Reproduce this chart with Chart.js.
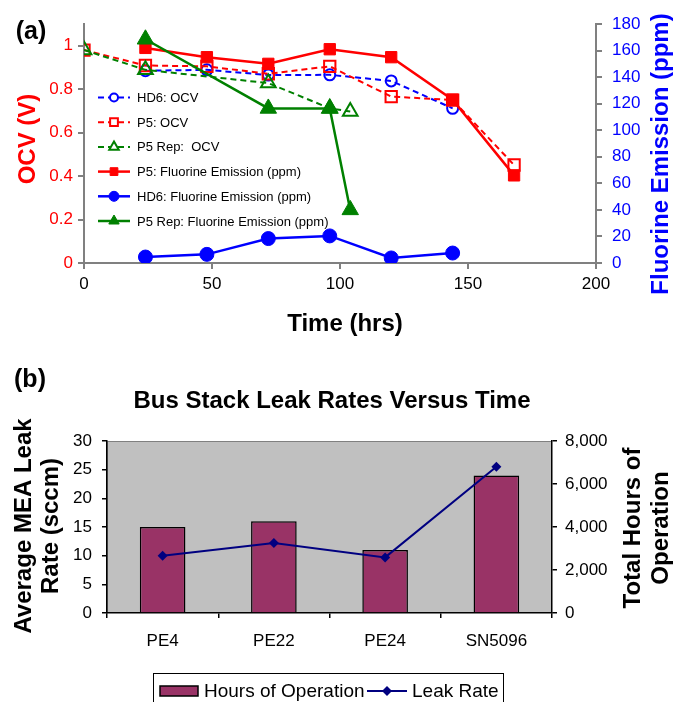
<!DOCTYPE html>
<html>
<head>
<meta charset="utf-8">
<script src="https://cdn.jsdelivr.net/npm/chart.js@4.4.1/dist/chart.umd.min.js"></script>
<style>
  body { margin: 0; background: #fff; }
  #wrapA { position: absolute; left: 0; top: 0; width: 674px; height: 345px; }
  #wrapB { position: absolute; left: 0; top: 345px; width: 674px; height: 357px; }
</style>
</head>
<body>
<div id="wrapA"><canvas id="chartA" width="674" height="345"></canvas></div>
<div id="wrapB"><canvas id="chartB" width="674" height="357"></canvas></div>
<script>
// (a) OCV and fluorine emission versus time
const hd6OcvTime = [24, 48, 72, 96, 120, 144];
const hd6Ocv = [0.885, 0.889, 0.865, 0.866, 0.838, 0.712];
const p5OcvTime = [0, 24, 48, 72, 96, 120, 144, 168];
const p5Ocv = [0.98, 0.909, 0.905, 0.871, 0.905, 0.766, 0.75, 0.451];
const p5RepOcvTime = [0, 24, 72, 96, 104];
const p5RepOcv = [0.98, 0.889, 0.828, 0.712, 0.697];
const p5FluorTime = [24, 48, 72, 96, 120, 144, 168];
const p5Fluor = [162, 155, 150, 161, 155, 123, 66];
const hd6FluorTime = [24, 48, 72, 96, 120, 144];
const hd6Fluor = [4.5, 6.5, 18.4, 20.4, 3.8, 7.5];
const p5RepFluorTime = [24, 72, 96, 104];
const p5RepFluor = [168.5, 116.4, 116.4, 40];

const timeTicks = [0, 50, 100, 150, 200];
const ocvTicks = [0, 0.2, 0.4, 0.6, 0.8, 1];
const fluorTicks = [0, 20, 40, 60, 80, 100, 120, 140, 160, 180];

// (b) bus stack leak rates
const stacks = ["PE4", "PE22", "PE24", "SN5096"];
const hoursOfOperation = [4000, 4270, 2930, 6400];
const leakRate = [10, 12.2, 9.7, 25.5];
const leakTicks = [0, 5, 10, 15, 20, 25, 30];
const hoursTicks = [0, 2000, 4000, 6000, 8000];

const FONT = "'Liberation Sans', Arial, sans-serif";
const GRAY = "#808080";
const RED = "#ff0000";
const BLUE = "#0000ff";
const GREEN = "#008000";

Chart.defaults.font.family = FONT;
Chart.defaults.animation = false;

function pts(xs, ys) {
  return xs.map((x, i) => ({ x: x, y: ys[i] }));
}

function setTicks(list) {
  return (scale) => { scale.ticks = list.map(v => ({ value: v })); };
}

function text(ctx, str, x, y, font, color, rot) {
  ctx.save();
  ctx.translate(x, y);
  if (rot) ctx.rotate(rot);
  ctx.font = font;
  ctx.fillStyle = color;
  ctx.textAlign = "center";
  ctx.textBaseline = "middle";
  ctx.fillText(str, 0, 0);
  ctx.restore();
}

// ---------- chart (a) ----------
const datasetsA = [
  { label: "HD6: OCV", data: pts(hd6OcvTime, hd6Ocv), yAxisID: "y",
    borderColor: BLUE, borderDash: [6, 4], borderWidth: 2,
    pointStyle: "circle", pointRadius: 5.5, pointBorderWidth: 2,
    pointBackgroundColor: "transparent", pointBorderColor: BLUE, legendR: 4 },
  { label: "P5: OCV", data: pts(p5OcvTime, p5Ocv), yAxisID: "y",
    borderColor: RED, borderDash: [6, 4], borderWidth: 2,
    pointStyle: "rect", pointRadius: 8, pointBorderWidth: 2,
    pointBackgroundColor: "transparent", pointBorderColor: RED, legendR: 5.5 },
  { label: "P5 Rep:  OCV", data: pts(p5RepOcvTime, p5RepOcv), yAxisID: "y",
    borderColor: GREEN, borderDash: [6, 4], borderWidth: 2,
    pointStyle: "triangle", pointRadius: 8.5, pointBorderWidth: 2,
    pointBackgroundColor: "transparent", pointBorderColor: GREEN, legendR: 5.5 },
  { label: "P5: Fluorine Emission (ppm)", data: pts(p5FluorTime, p5Fluor), yAxisID: "y1",
    borderColor: RED, borderWidth: 2.5,
    pointStyle: "rect", pointRadius: 8, pointBorderWidth: 1,
    pointBackgroundColor: RED, pointBorderColor: RED, legendR: 5.5 },
  { label: "HD6: Fluorine Emission (ppm)", data: pts(hd6FluorTime, hd6Fluor), yAxisID: "y1",
    borderColor: BLUE, borderWidth: 2.5,
    pointStyle: "circle", pointRadius: 7, pointBorderWidth: 1,
    pointBackgroundColor: BLUE, pointBorderColor: BLUE, legendR: 5 },
  { label: "P5 Rep: Fluorine Emission (ppm)", data: pts(p5RepFluorTime, p5RepFluor), yAxisID: "y1",
    borderColor: GREEN, borderWidth: 2.5,
    pointStyle: "triangle", pointRadius: 9.5, pointBorderWidth: 1,
    pointBackgroundColor: GREEN, pointBorderColor: GREEN, legendR: 6 }
];
datasetsA.forEach((d, i) => { d.order = datasetsA.length - i; d.tension = 0; });

const labelsA = {
  id: "labelsA",
  afterDraw(chart) {
    const ctx = chart.ctx;
    text(ctx, "(a)", 31, 32, "bold 25px " + FONT, "#000");
    text(ctx, "OCV (V)", 28, 139, "bold 24px " + FONT, RED, -Math.PI / 2);
    text(ctx, "Fluorine Emission (ppm)", 661, 154, "bold 24px " + FONT, BLUE, -Math.PI / 2);
    text(ctx, "Time (hrs)", 345, 324, "bold 24px " + FONT, "#000");

    // legend inside the plot
    chart.data.datasets.forEach((d, i) => {
      const y = 97.5 + 24.7 * i;
      ctx.save();
      ctx.strokeStyle = d.borderColor;
      ctx.lineWidth = d.borderWidth;
      ctx.setLineDash(d.borderDash || []);
      ctx.beginPath();
      ctx.moveTo(98, y);
      ctx.lineTo(130, y);
      ctx.stroke();
      ctx.setLineDash([]);
      ctx.fillStyle = d.pointBackgroundColor === "transparent" ? "#fff" : d.pointBackgroundColor;
      ctx.strokeStyle = d.pointBorderColor;
      ctx.lineWidth = d.pointBorderWidth;
      Chart.helpers.drawPoint(ctx, { pointStyle: d.pointStyle, radius: d.legendR,
        rotation: 0, borderWidth: d.pointBorderWidth }, 114, y);
      ctx.font = "13px " + FONT;
      ctx.fillStyle = "#000";
      ctx.textAlign = "left";
      ctx.textBaseline = "middle";
      ctx.fillText(d.label, 137, y + 1);
      ctx.restore();
    });
  }
};

new Chart(document.getElementById("chartA"), {
  type: "line",
  data: { datasets: datasetsA },
  options: {
    responsive: false,
    devicePixelRatio: 1,
    layout: { padding: { top: 24, left: 0, right: 0, bottom: 0 } },
    plugins: { legend: { display: false }, tooltip: { enabled: false } },
    scales: {
      x: {
        type: "linear", min: 0, max: 200, position: "bottom",
        afterBuildTicks: setTicks(timeTicks),
        afterFit: (s) => { s.height = 82; },
        border: { color: GRAY, width: 2 },
        grid: { drawOnChartArea: false, drawTicks: true, tickLength: 6, color: GRAY, lineWidth: 2 },
        ticks: { color: "#000", font: { size: 17 }, padding: 5, maxRotation: 0 }
      },
      y: {
        position: "left", min: 0, max: 1.1,
        afterBuildTicks: setTicks(ocvTicks),
        afterFit: (s) => { s.width = 84; },
        border: { color: GRAY, width: 2 },
        grid: { drawOnChartArea: false, drawTicks: true, tickLength: 6, color: GRAY, lineWidth: 2 },
        ticks: { color: RED, font: { size: 17 }, padding: 5,
          callback: (v) => String(Math.round(v * 10) / 10) }
      },
      y1: {
        position: "right", min: 0, max: 180,
        afterBuildTicks: setTicks(fluorTicks),
        afterFit: (s) => { s.width = 78; },
        border: { color: GRAY, width: 2 },
        grid: { drawOnChartArea: false, drawTicks: true, tickLength: 6, color: GRAY, lineWidth: 2 },
        ticks: { color: BLUE, font: { size: 17 }, padding: 10 }
      }
    }
  },
  plugins: [labelsA]
});

// ---------- chart (b) ----------
const plotBg = {
  id: "plotBg",
  beforeDraw(chart) {
    const a = chart.chartArea;
    const ctx = chart.ctx;
    ctx.save();
    ctx.fillStyle = "#c0c0c0";
    ctx.fillRect(a.left, a.top, a.right - a.left, a.bottom - a.top);
    ctx.strokeStyle = GRAY;
    ctx.lineWidth = 1;
    ctx.strokeRect(a.left + 0.5, a.top + 0.5, a.right - a.left - 1, a.bottom - a.top - 1);
    ctx.restore();
  }
};

const labelsB = {
  id: "labelsB",
  afterDraw(chart) {
    const ctx = chart.ctx;
    text(ctx, "(b)", 30, 35, "bold 25px " + FONT, "#000");
    text(ctx, "Bus Stack Leak Rates Versus Time", 332, 56, "bold 24px " + FONT, "#000");
    text(ctx, "Average MEA Leak", 24, 181, "bold 24px " + FONT, "#000", -Math.PI / 2);
    text(ctx, "Rate (sccm)", 51, 181, "bold 24px " + FONT, "#000", -Math.PI / 2);
    text(ctx, "Total Hours of", 633, 183, "bold 24px " + FONT, "#000", -Math.PI / 2);
    text(ctx, "Operation", 661, 183, "bold 24px " + FONT, "#000", -Math.PI / 2);

    // legend box
    const bar = chart.data.datasets[0];
    const line = chart.data.datasets[1];
    const ly = 346;
    ctx.save();
    ctx.strokeStyle = "#000";
    ctx.lineWidth = 1;
    ctx.strokeRect(153.5, 328.5, 350, 40);
    ctx.fillStyle = bar.backgroundColor;
    ctx.fillRect(160, ly - 5, 38, 10);
    ctx.lineWidth = 1.5;
    ctx.strokeRect(160, ly - 5, 38, 10);
    ctx.strokeStyle = line.borderColor;
    ctx.lineWidth = line.borderWidth;
    ctx.beginPath();
    ctx.moveTo(367, ly);
    ctx.lineTo(407, ly);
    ctx.stroke();
    ctx.fillStyle = line.pointBackgroundColor;
    Chart.helpers.drawPoint(ctx, { pointStyle: "rectRot", radius: 5, rotation: 0, borderWidth: 0 }, 387, ly);
    ctx.font = "19px " + FONT;
    ctx.fillStyle = "#000";
    ctx.textAlign = "left";
    ctx.textBaseline = "middle";
    ctx.fillText(bar.label, 204, ly + 1);
    ctx.fillText(line.label, 412, ly + 1);
    ctx.restore();
  }
};

new Chart(document.getElementById("chartB"), {
  type: "bar",
  data: {
    labels: stacks,
    datasets: [
      { type: "bar", label: "Hours of Operation", data: hoursOfOperation, yAxisID: "y1",
        backgroundColor: "#993366", borderColor: "#000", borderWidth: 1.5,
        barPercentage: 0.41, categoryPercentage: 1, order: 2 },
      { type: "line", label: "Leak Rate", data: leakRate, yAxisID: "y",
        borderColor: "#000080", borderWidth: 2, tension: 0,
        pointStyle: "rectRot", pointRadius: 5, pointBorderWidth: 0,
        pointBackgroundColor: "#000080", order: 1 }
    ]
  },
  options: {
    responsive: false,
    devicePixelRatio: 1,
    locale: "en-US",
    layout: { padding: { top: 96, left: 0, right: 0, bottom: 0 } },
    plugins: { legend: { display: false }, tooltip: { enabled: false } },
    scales: {
      x: {
        type: "category", offset: true,
        afterFit: (s) => { s.height = 89; },
        border: { color: "#000", width: 1.5 },
        grid: { offset: true, drawOnChartArea: false, drawTicks: true, tickLength: 5, color: "#000", lineWidth: 1.5 },
        ticks: { color: "#000", font: { size: 17 }, padding: 13, maxRotation: 0 }
      },
      y: {
        position: "left", min: 0, max: 30,
        afterBuildTicks: setTicks(leakTicks),
        afterFit: (s) => { s.width = 107; },
        border: { color: "#000", width: 1.5 },
        grid: { drawOnChartArea: false, drawTicks: true, tickLength: 5, color: "#000", lineWidth: 1.5 },
        ticks: { color: "#000", font: { size: 17 }, padding: 10 }
      },
      y1: {
        position: "right", min: 0, max: 8000,
        afterBuildTicks: setTicks(hoursTicks),
        afterFit: (s) => { s.width = 122; },
        border: { color: "#000", width: 1.5 },
        grid: { drawOnChartArea: false, drawTicks: true, tickLength: 5, color: "#000", lineWidth: 1.5 },
        ticks: { color: "#000", font: { size: 17 }, padding: 8,
          callback: (v) => v.toLocaleString("en-US") }
      }
    }
  },
  plugins: [plotBg, labelsB]
});
</script>
</body>
</html>
